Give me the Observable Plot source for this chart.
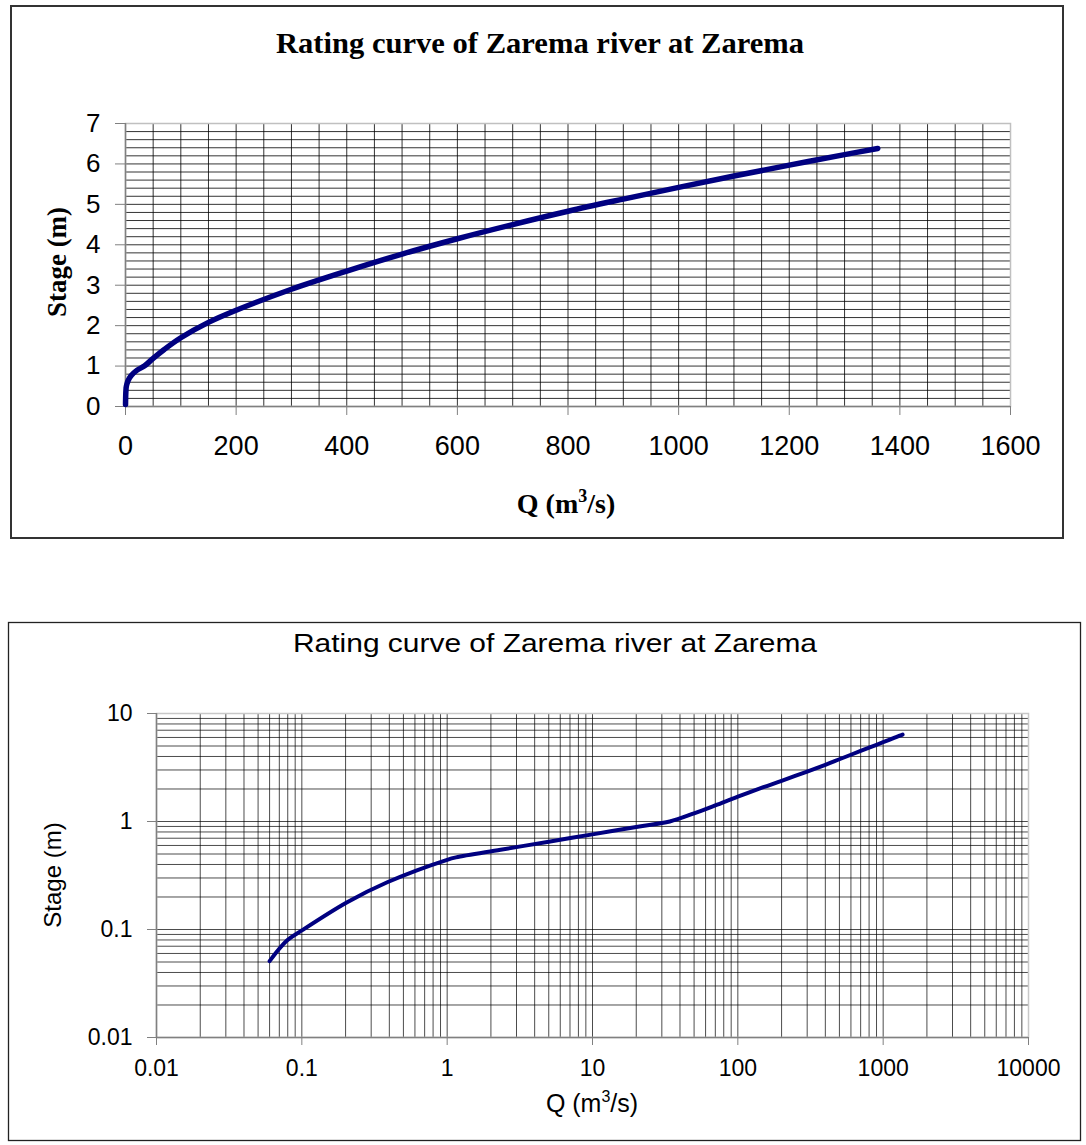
<!DOCTYPE html>
<html>
<head>
<meta charset="utf-8">
<script src="https://cdn.jsdelivr.net/npm/d3@7"></script>
<script src="https://cdn.jsdelivr.net/npm/@observablehq/plot@0.6"></script>
<style>
  html, body { margin: 0; padding: 0; background: #fff; }
  #page { position: relative; width: 1086px; height: 1145px; overflow: hidden; }
  #page > svg { position: absolute; }
</style>
</head>
<body>
<div id="page"></div>
<script>
// ---- data ----
const discharge = [0.06, 0.079, 0.1, 0.205, 0.387, 1.0, 1.15, 2.33, 5, 10, 21, 34, 50, 70, 100, 150, 200, 300, 400, 500, 600, 700, 800, 900, 1000, 1100, 1200, 1300, 1360];
const stage     = [0.051, 0.079, 0.098, 0.179, 0.274, 0.442, 0.465, 0.547, 0.65, 0.76, 0.9, 1.0, 1.19, 1.41, 1.7, 2.08, 2.38, 2.9, 3.35, 3.77, 4.15, 4.5, 4.83, 5.13, 5.42, 5.7, 5.97, 6.23, 6.38];

// tick labels
const linXTicks = [0, 200, 400, 600, 800, 1000, 1200, 1400, 1600];
const linYTicks = [0, 1, 2, 3, 4, 5, 6, 7];
const logXTicks = [0.01, 0.1, 1, 10, 100, 1000, 10000];
const logYTicks = [0.01, 0.1, 1, 10];

const titleText = "Rating curve of Zarema river at Zarema";
const yLabelText = "Stage (m)";

const rows = discharge.map((q, i) => ({q, h: stage[i]}));

// grid positions
const linXGrid = d3.range(0, 1600 + 1, 50);
const linYGrid = d3.range(0, 70 + 1, 2).map(v => v / 10);
const logGrid = (lo, hi) => d3.range(lo, hi).flatMap(k => d3.range(1, 10).map(m => +(m * Math.pow(10, k)).toPrecision(6))).concat([Math.pow(10, hi)]);
const logXGrid = logGrid(-2, 4);
const logYGrid = logGrid(-2, 1);

const page = document.getElementById("page");
const SANS = "Arial, 'Liberation Sans', sans-serif";
const SERIF = "'Times New Roman', 'Liberation Serif', serif";
const NAVY = "#000080";

// ---- chart 1: linear ----
const top1 = Plot.plot({
  width: 1086, height: 540,
  marginLeft: 125, marginRight: 76, marginTop: 123, marginBottom: 134,
  style: {fontFamily: SANS, color: "#000", background: "transparent"},
  x: {domain: [0, 1600]},
  y: {domain: [0, 7]},
  marks: [
    Plot.gridX({ticks: linXGrid, stroke: "#000", strokeOpacity: 0.8, strokeWidth: 1}),
    Plot.gridY({ticks: linYGrid, stroke: "#000", strokeOpacity: 0.8, strokeWidth: 1}),
    Plot.frame({stroke: "#c0c0c0", strokeWidth: 1.5}),
    Plot.ruleX([0], {stroke: "#808080", strokeWidth: 1.5}),
    Plot.ruleY([0], {stroke: "#808080", strokeWidth: 1.5}),
    Plot.axisY({ticks: linYTicks, tickSize: 10, tickPadding: 15, fontSize: 26, tickFormat: d => String(d), stroke: "#808080", label: null}),
    Plot.axisX({ticks: linXTicks, tickSize: 9, tickPadding: 20, fontSize: 27, tickFormat: d => String(d), stroke: "#808080", label: null}),
    Plot.line(rows, {x: "q", y: "h", stroke: NAVY, strokeWidth: 5.5, curve: "catmull-rom", strokeLinecap: "round", strokeLinejoin: "round"})
  ]
});
top1.style.left = "0px"; top1.style.top = "0px";
page.appendChild(top1);

// ---- chart 2: log-log ----
const bot = Plot.plot({
  width: 1086, height: 545,
  marginLeft: 156, marginRight: 58, marginTop: 113, marginBottom: 108,
  style: {fontFamily: SANS, color: "#000", background: "transparent"},
  x: {type: "log", domain: [0.01, 10000]},
  y: {type: "log", domain: [0.01, 10]},
  marks: [
    Plot.gridX({ticks: logXGrid, stroke: "#000", strokeOpacity: 0.7, strokeWidth: 1}),
    Plot.gridY({ticks: logYGrid, stroke: "#000", strokeOpacity: 0.7, strokeWidth: 1}),
    Plot.frame({stroke: "#c8c8c8", strokeWidth: 1.5}),
    Plot.ruleX([0.01], {stroke: "#808080", strokeWidth: 1.5}),
    Plot.ruleY([0.01], {stroke: "#808080", strokeWidth: 1.5}),
    Plot.axisY({ticks: logYTicks, tickSize: 9, tickPadding: 15, fontSize: 23, tickFormat: d => String(d), stroke: "#808080", label: null}),
    Plot.axisX({ticks: logXTicks, tickSize: 8, tickPadding: 14, fontSize: 23, tickFormat: d => String(d), stroke: "#808080", label: null}),
    Plot.line(rows, {x: "q", y: "h", stroke: NAVY, strokeWidth: 4, curve: "catmull-rom", strokeLinecap: "round", strokeLinejoin: "round"})
  ]
});
bot.style.left = "0px"; bot.style.top = "600px";
page.appendChild(bot);

// ---- overlay: chart borders, titles, axis titles ----
const ov = d3.select(page).append("svg")
  .attr("width", 1086).attr("height", 1145)
  .style("left", "0px").style("top", "0px").style("pointer-events", "none");

ov.append("rect").attr("x", 11).attr("y", 6).attr("width", 1052).attr("height", 532)
  .attr("fill", "none").attr("stroke", "#333").attr("stroke-width", 2);
ov.append("rect").attr("x", 8.5).attr("y", 622.5).attr("width", 1072).attr("height", 518)
  .attr("fill", "none").attr("stroke", "#222").attr("stroke-width", 1.3);

// top chart texts
ov.append("text").attr("x", 540).attr("y", 53).attr("text-anchor", "middle")
  .attr("textLength", 528).attr("lengthAdjust", "spacingAndGlyphs")
  .style("font-family", SERIF).style("font-weight", "bold").style("font-size", "30px")
  .text(titleText);
ov.append("text").attr("transform", "translate(66,262) rotate(-90)").attr("text-anchor", "middle")
  .style("font-family", SERIF).style("font-weight", "bold").style("font-size", "27px")
  .text(yLabelText);
const xl1 = ov.append("text").attr("x", 566).attr("y", 513).attr("text-anchor", "middle")
  .style("font-family", SERIF).style("font-weight", "bold").style("font-size", "28px");
xl1.append("tspan").text("Q (m");
xl1.append("tspan").attr("dy", -11).style("font-size", "18px").text("3");
xl1.append("tspan").attr("dy", 11).text("/s)");

// bottom chart texts
ov.append("text").attr("x", 555).attr("y", 652).attr("text-anchor", "middle")
  .attr("textLength", 524).attr("lengthAdjust", "spacingAndGlyphs")
  .style("font-family", SANS).style("font-size", "25px")
  .text(titleText);
ov.append("text").attr("transform", "translate(61,875) rotate(-90)").attr("text-anchor", "middle")
  .style("font-family", SANS).style("font-size", "24px")
  .text(yLabelText);
const xl2 = ov.append("text").attr("x", 592).attr("y", 1112).attr("text-anchor", "middle")
  .style("font-family", SANS).style("font-size", "25px");
xl2.append("tspan").text("Q (m");
xl2.append("tspan").attr("dy", -10).style("font-size", "16px").text("3");
xl2.append("tspan").attr("dy", 10).text("/s)");
</script>
</body>
</html>
